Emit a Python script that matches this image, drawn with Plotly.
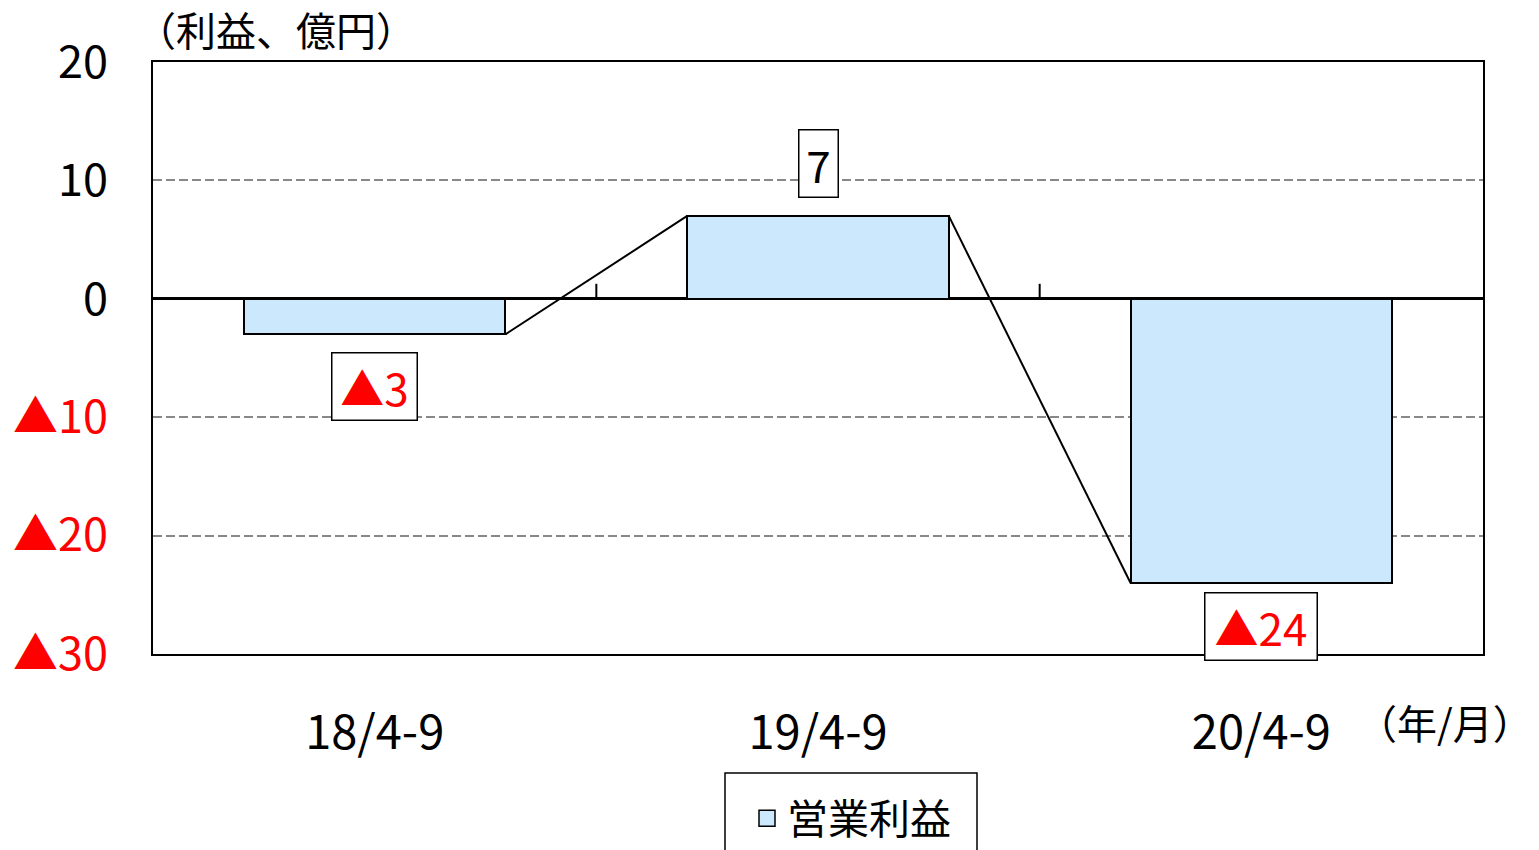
import plotly.graph_objects as go

categories = ["18/4-9", "19/4-9", "20/4-9"]
values = [-3, 7, -24]
label_texts = ["▲3", "7", "▲24"]
y_tick_vals = [20, 10, 0, -10, -20, -30]
y_tick_text = ["20", "10", "0", "▲10", "▲20", "▲30"]
series_name = "営業利益"

FONT = "Noto Sans CJK JP"
BAR_W = 0.59
BAR_FILL = "#CCE8FC"
LABEL_BOX_W = [82, 36, 109]  # inner text widths of the boxed labels
xs = list(range(len(categories)))

fig = go.Figure()
fig.add_trace(go.Bar(
    x=xs, y=values, width=BAR_W, name=series_name,
    marker=dict(color=BAR_FILL, line=dict(color="black", width=2)),
    showlegend=False,
))
# legend entry with a larger swatch
fig.add_trace(go.Scatter(
    x=[None], y=[None], mode="markers", name=series_name,
    marker=dict(symbol="square", size=16, color=BAR_FILL, line=dict(color="black", width=1.5)),
    showlegend=True,
))

# connector lines between bar ends
for i in range(len(values) - 1):
    fig.add_trace(go.Scatter(
        x=[xs[i] + BAR_W / 2, xs[i + 1] - BAR_W / 2],
        y=[values[i], values[i + 1]],
        mode="lines", line=dict(color="black", width=2),
        showlegend=False, hoverinfo="skip",
    ))

# boxed data labels
for i, (v, t) in enumerate(zip(values, label_texts)):
    neg = v < 0
    fig.add_annotation(
        x=xs[i], y=v, xref="x", yref="y", text=t, showarrow=False,
        width=LABEL_BOX_W[i],
        yshift=(-44 if v < -20 else -52) if neg else 52,
        font=dict(family=FONT, size=44, color="red" if neg else "black"),
        bordercolor="black", borderwidth=1.5, borderpad=1, bgcolor="white",
    )

# category boundary ticks on the zero line
for b in [0.5, 1.5]:
    fig.add_shape(type="line", xref="x", yref="y", x0=b, x1=b,
                  ysizemode="pixel", yanchor=0, y0=0, y1=15,
                  line=dict(color="black", width=2))

# legend frame
fig.add_shape(type="rect", xref="paper", yref="paper",
              x0=(725 - 153) / 1330, x1=(977 - 153) / 1330,
              y0=(654 - 773) / 592, y1=(654 - 870) / 592,
              line=dict(color="black", width=1.5), fillcolor="rgba(0,0,0,0)")

ticktext = [t if not t.startswith("▲") else f'<span style="color:red">{t}</span>' for t in y_tick_text]

fig.update_layout(
    width=1539, height=850,
    margin=dict(l=153, r=56, t=62, b=196),
    plot_bgcolor="white", paper_bgcolor="white",
    font=dict(family=FONT, size=40, color="black"),
    bargap=0,
    xaxis=dict(
        range=[-0.5, 2.5], tickvals=xs, ticktext=categories,
        showgrid=False, zeroline=False, showline=True, mirror=True,
        linecolor="black", linewidth=2, ticks="", ticklabelstandoff=37,
        tickfont=dict(family=FONT, size=47, color="black"), automargin=False,
    ),
    yaxis=dict(
        range=[-30, 20], tickvals=y_tick_vals, ticktext=ticktext,
        showgrid=True, gridcolor="#888888", griddash="9px,4px", gridwidth=1.5,
        zeroline=True, zerolinecolor="black", zerolinewidth=3,
        showline=True, mirror=True, linecolor="black", linewidth=2,
        ticks="", ticklabelstandoff=34, automargin=False,
        tickfont=dict(family=FONT, size=45, color="black"),
    ),
    legend=dict(
        xref="container", yref="container",
        x=747 / 1539, y=(850 - 785) / 850, xanchor="left", yanchor="top",
        orientation="h", borderwidth=0, bgcolor="rgba(0,0,0,0)",
        font=dict(family=FONT, size=41, color="black"),
        itemwidth=30,
    ),
    annotations=list(fig.layout.annotations) + [
        dict(text="（利益、億円）", xref="paper", yref="paper", x=0.0, y=1.0,
             xanchor="left", yanchor="bottom", yshift=2, xshift=-19, showarrow=False,
             font=dict(family=FONT, size=40, color="black")),
        dict(text="（年/月）", xref="paper", yref="paper", x=1.0, y=0, xanchor="right",
             yanchor="middle", xshift=52, yshift=-68, showarrow=False,
             font=dict(family=FONT, size=40, color="black")),
    ],
)

fig.write_html("out.html", config={"displayModeBar": False},
               post_script="document.body.style.margin='0';")
